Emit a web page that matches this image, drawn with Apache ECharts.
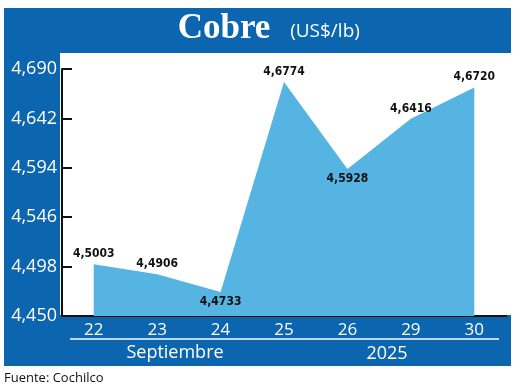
<!DOCTYPE html>
<html><head><meta charset="utf-8">
<script src="https://cdn.jsdelivr.net/npm/echarts@6/dist/echarts.min.js"></script>
<style>html,body{margin:0;padding:0;background:#fff}#c{width:520px;height:388px}</style>
</head><body><div id="c"></div>
<script>
var categories = ['22','23','24','25','26','29','30'];
var values = [4.5003, 4.4906, 4.4733, 4.6774, 4.5928, 4.6416, 4.6720];
var valueLabels = ['4,5003','4,4906','4,4733','4,6774','4,5928','4,6416','4,6720'];
var yTicks = [4.450, 4.498, 4.546, 4.594, 4.642, 4.690];
var labelPos = ['top','top','bottom','top','bottom','top','top'];
var labelOff = [[-6,-1],[12,0],[-3,-2],[-1,-1],[0,-2],[-12,0],[13,4]];

var DARK = '#0B65AF', LIGHT = '#56B4E3';
var chart = echarts.init(document.getElementById('c'));
chart.setOption({
  animation: false,
  graphic: [
    {type:'rect', z:-10, shape:{x:4,y:8,width:507,height:358}, style:{fill:DARK}},
    {type:'rect', z:-9, shape:{x:60,y:53,width:451,height:262}, style:{fill:'#fff'}},
    {type:'line', z:10, shape:{x1:70,y1:339,x2:499,y2:339}, style:{stroke:'#fff',lineWidth:1.5}},
    {type:'text', z:10, style:{x:175, y:353, text:'Septiembre', fill:'#fff', font:'18px "Open Sans"', textAlign:'center', textVerticalAlign:'middle'}},
    {type:'text', z:10, style:{x:387, y:354, text:'2025', fill:'#fff', font:'18px "Open Sans"', textAlign:'center', textVerticalAlign:'middle'}},
    {type:'text', z:10, style:{x:224, y:29, text:'Cobre', fill:'#fff', font:'bold 35px "Liberation Serif"', textAlign:'center', textVerticalAlign:'middle'}},
    {type:'text', z:10, style:{x:325, y:32, text:'(US$/lb)', fill:'#fff', font:'19px "Open Sans"', textAlign:'center', textVerticalAlign:'middle'}},
    {type:'text', z:10, style:{x:4, y:378, text:'Fuente: Cochilco', fill:'#111', font:'13px "Open Sans"', textAlign:'left', textVerticalAlign:'middle'}}
  ],
  grid: {left:62, right:14, top:69, bottom:72, containLabel:false},
  xAxis: {
    type:'category', data:categories, boundaryGap:true,
    axisLine:{show:true, lineStyle:{color:'#111', width:2}},
    axisTick:{show:false},
    axisLabel:{color:'#fff', fontSize:17, fontFamily:'Open Sans', margin:6}
  },
  yAxis: {
    type:'value', min:4.450, max:4.690,
    axisLine:{show:true, lineStyle:{color:'#111', width:2}},
    axisTick:{show:true, inside:true, length:10, lineStyle:{color:'#111', width:2}, customValues:yTicks},
    axisLabel:{color:'#fff', fontSize:18, fontFamily:'"Open Sans"', margin:5, customValues:yTicks,
      formatter:function(v){return v.toFixed(3).replace('.',',');}},
    splitLine:{show:false}
  },
  series: [{
    type:'line', data: values.map(function(v,i){
      return {value:v, label:{show:true, position:labelPos[i], offset:labelOff[i], formatter:valueLabels[i]}};
    }),
    symbol:'circle', symbolSize:0.5, showSymbol:true, showAllSymbol:true,
    lineStyle:{width:0}, itemStyle:{color:LIGHT},
    areaStyle:{color:LIGHT, opacity:1, origin:'start'},
    labelLayout:{hideOverlap:false},
    label:{show:true, color:'#111', fontSize:12, fontWeight:'bold', opacity:1, fontFamily:'"DejaVu Sans Condensed"', distance:4}
  }]
});
</script></body></html>
